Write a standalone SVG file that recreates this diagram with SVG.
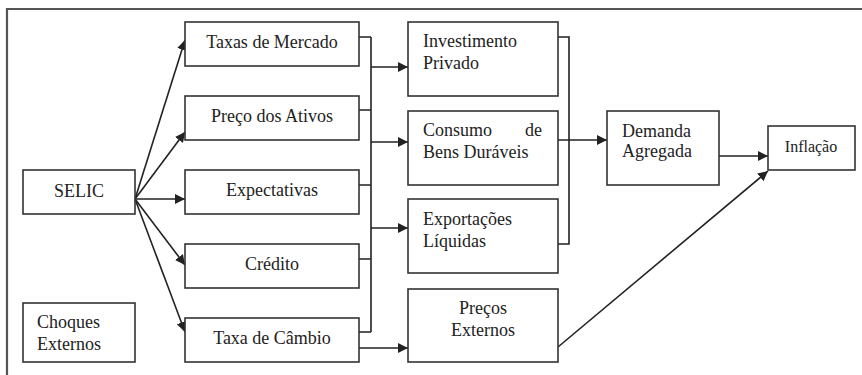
<svg xmlns="http://www.w3.org/2000/svg" width="862" height="375" viewBox="0 0 862 375">
<style>
.box{fill:#fff;stroke:#333;stroke-width:1.6}
.t{font-family:"Liberation Serif","Times New Roman",serif;font-size:18px;fill:#222}
.c{text-anchor:middle}
.ln{fill:none;stroke:#222;stroke-width:1.6}
</style>
<defs>
<marker id="ah" viewBox="0 0 10 10" refX="10" refY="5" markerWidth="10" markerHeight="10" markerUnits="userSpaceOnUse" orient="auto">
<path d="M0,0 L10,5 L0,10 z" fill="#222"/>
</marker>
</defs>
<rect width="862" height="375" fill="#fff"/>
<path d="M7,375 V9 H862" fill="none" stroke="#555" stroke-width="2.2"/>
<g id="connectors">
<path class="ln" marker-end="url(#ah)" d="M135,199 L185,40"/>
<path class="ln" marker-end="url(#ah)" d="M135,199 L185,132"/>
<path class="ln" marker-end="url(#ah)" d="M135,199 L185,199"/>
<path class="ln" marker-end="url(#ah)" d="M135,199 L185,265"/>
<path class="ln" marker-end="url(#ah)" d="M135,199 L185,332"/>
<path class="ln" d="M359,37 H371 M359,110 H371 M359,185 H371 M359,259 H371 M359,332 H371 M371,37 V332"/>
<path class="ln" marker-end="url(#ah)" d="M371,67 H408"/>
<path class="ln" marker-end="url(#ah)" d="M371,142 H408"/>
<path class="ln" marker-end="url(#ah)" d="M371,228 H408"/>
<path class="ln" marker-end="url(#ah)" d="M359,348 H408"/>
<path class="ln" d="M558,37 H569 V244 H558"/>
<path class="ln" marker-end="url(#ah)" d="M558,140 H607"/>
<path class="ln" marker-end="url(#ah)" d="M719,156 H768"/>
<path class="ln" marker-end="url(#ah)" d="M558,347 L768,171"/>
</g>
<g id="selic"><rect class="box" x="23" y="170" width="112" height="44"/><text class="t c" x="79" y="197">SELIC</text></g>
<g id="choques"><rect class="box" x="23" y="303" width="112" height="59"/><text class="t" x="37" y="328">Choques</text><text class="t" x="37" y="350">Externos</text></g>
<g id="taxas"><rect class="box" x="185" y="22" width="174" height="44"/><text class="t c" x="272" y="48">Taxas de Mercado</text></g>
<g id="preco"><rect class="box" x="185" y="96" width="174" height="44"/><text class="t c" x="272" y="122">Preço dos Ativos</text></g>
<g id="expectativas"><rect class="box" x="185" y="170" width="174" height="44"/><text class="t c" x="272" y="196">Expectativas</text></g>
<g id="credito"><rect class="box" x="185" y="244" width="174" height="44"/><text class="t c" x="272" y="270">Crédito</text></g>
<g id="cambio"><rect class="box" x="185" y="318" width="174" height="44"/><text class="t c" x="272" y="344">Taxa de Câmbio</text></g>
<g id="investimento"><rect class="box" x="408" y="22" width="150" height="74"/><text class="t" x="423" y="47">Investimento</text><text class="t" x="423" y="69">Privado</text></g>
<g id="consumo"><rect class="box" x="408" y="111" width="150" height="74"/><text class="t" x="423" y="136">Consumo</text><text class="t" x="542" y="136" text-anchor="end">de</text><text class="t" x="423" y="158">Bens Duráveis</text></g>
<g id="exportacoes"><rect class="box" x="408" y="199" width="150" height="74"/><text class="t" x="423" y="225">Exportações</text><text class="t" x="423" y="247">Líquidas</text></g>
<g id="precos-externos"><rect class="box" x="408" y="289" width="150" height="73"/><text class="t c" x="483" y="314">Preços</text><text class="t c" x="483" y="336">Externos</text></g>
<g id="demanda"><rect class="box" x="607" y="111" width="112" height="74"/><text class="t" x="622" y="137">Demanda</text><text class="t" x="622" y="157">Agregada</text></g>
<g id="inflacao"><rect class="box" x="768" y="126" width="87" height="44"/><text class="t c" x="811" y="152" style="font-size:16px">Inflação</text></g>
</svg>
